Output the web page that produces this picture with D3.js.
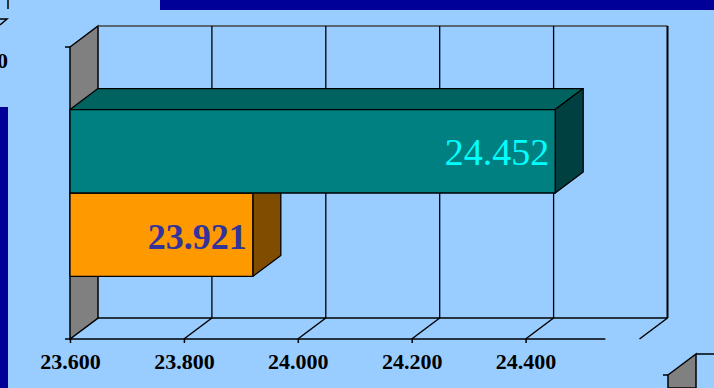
<!DOCTYPE html>
<html>
<head>
<meta charset="utf-8">
<script src="https://cdn.jsdelivr.net/npm/d3@7"></script>
<style>
  html, body { margin: 0; padding: 0; background: #99CCFF; }
  svg { display: block; }
</style>
</head>
<body>
<svg id="chart" width="714" height="388"></svg>
<script>
// Chart data
const categories = ["2006"];
const seriesNames = ["Serie 1", "Serie 2"];
const seriesValues = [23.921, 24.452];
const seriesColors = [
  { front: "#FF9900", top: "#CC7A00", side: "#7F4C00", label: "#333399", weight: "bold", size: 36 },
  { front: "#008080", top: "#006360", side: "#004040", label: "#00FFFF", weight: "normal", size: 38 }
];
const tickValues = [23.6, 23.8, 24.0, 24.2, 24.4];
const tickLabels = ["23.600", "23.800", "24.000", "24.200", "24.400"];
const valueLabels = ["23.921", "24.452"];
const axisMin = 23.6, axisMax = 24.6, axisLineEnd = 24.54;

const svg = d3.select("#chart");
const W = 714, H = 388;
const serif = "'Times New Roman', 'Liberation Serif', serif";

// Page background and decoration
svg.append("rect").attr("width", W).attr("height", H).attr("fill", "#99CCFF");
svg.append("rect").attr("x", 160).attr("y", 0).attr("width", W - 160).attr("height", 10).attr("fill", "#000099");
svg.append("rect").attr("x", 0).attr("y", 107).attr("width", 8).attr("height", H - 107).attr("fill", "#000099");

// Fragments of a neighbouring chart peeking in at the edges
const frag = svg.append("g").attr("stroke", "#000").attr("stroke-width", 1.5).attr("fill", "none");
frag.append("line").attr("x1", 8).attr("y1", 0).attr("x2", 8).attr("y2", 9);
frag.append("polyline").attr("points", "0,19 7,19 0,25");
svg.append("text").attr("x", 8).attr("y", 68).attr("text-anchor", "end")
  .attr("font-family", serif).attr("font-weight", "bold").attr("font-size", 22).text("600");
svg.append("polygon").attr("points", "668,375 696,354 696,388 668,388")
  .attr("fill", "#808080").attr("stroke", "#000").attr("stroke-width", 1.5);
frag.append("line").attr("x1", 663).attr("y1", 375).attr("x2", 668).attr("y2", 375);
frag.append("line").attr("x1", 696).attr("y1", 354).attr("x2", 714).attr("y2", 354);

// 3D plot geometry
const front = { left: 70, top: 47, bottom: 339 };
const dx = 28, dy = 21;

const x = d3.scaleLinear().domain([axisMin, axisMax]).range([front.left, 639.5]);
const yCat = d3.scaleBand().domain(categories).range([front.bottom, front.top]).paddingOuter(0.375).paddingInner(0);
const ySer = d3.scaleBand().domain(seriesNames).range([yCat(categories[0]), yCat(categories[0]) + yCat.bandwidth()]);
// first series at the bottom of the group
const yOf = name => ySer.range()[0] + ySer.range()[1] - ySer(name) - ySer.bandwidth();

const g = svg.append("g");

// Left wall (gray)
g.append("polygon")
  .attr("points", [[front.left, front.top], [front.left + dx, front.top - dy],
                   [front.left + dx, front.bottom - dy], [front.left, front.bottom]].map(p => p.join(",")).join(" "))
  .attr("fill", "#808080").attr("stroke", "#000").attr("stroke-width", 1.5);

// Back wall frame and gridlines
const gridVals = tickValues.concat([axisMax]);
const back = g.append("g").attr("stroke", "#000").attr("fill", "none");
back.append("line").attr("x1", x(axisMin) + dx).attr("x2", x(axisMax) + dx)
  .attr("y1", front.top - dy).attr("y2", front.top - dy).attr("stroke", "#444").attr("stroke-width", 1.5);
back.append("line").attr("x1", x(axisMin) + dx).attr("x2", x(axisMax) + dx)
  .attr("y1", front.bottom - dy).attr("y2", front.bottom - dy).attr("stroke-width", 1.5);
back.selectAll("line.grid").data(gridVals.slice(1)).join("line").attr("class", "grid")
  .attr("x1", d => x(d) + dx).attr("x2", d => x(d) + dx)
  .attr("y1", front.top - dy).attr("y2", front.bottom - dy)
  .attr("stroke-width", d => d === axisMax ? 2 : 1.3);
// Floor diagonals
back.selectAll("line.floor").data(gridVals.slice(1)).join("line").attr("class", "floor")
  .attr("x1", d => x(d)).attr("y1", front.bottom)
  .attr("x2", d => x(d) + dx).attr("y2", front.bottom - dy).attr("stroke-width", 1.5);

// Category axis ticks on the wall edge
g.selectAll("line.ytick").data([front.top, front.bottom]).join("line").attr("class", "ytick")
  .attr("x1", front.left - 5).attr("x2", front.left).attr("y1", d => d).attr("y2", d => d)
  .attr("stroke", "#000").attr("stroke-width", 1.5);

// Value axis
const axis = d3.axisBottom(x).tickValues(tickValues).tickSize(4).tickSizeOuter(0)
  .tickFormat((d, i) => tickLabels[i]);
const axG = g.append("g").attr("transform", `translate(0,${front.bottom})`).call(axis);
axG.select(".domain").attr("d", `M${x(axisMin)},0H${x(axisLineEnd)}`).attr("stroke-width", 1.5);
axG.selectAll(".tick line").attr("stroke-width", 1.5);
axG.selectAll(".tick text").attr("font-family", serif).attr("font-weight", "bold")
  .attr("font-size", 22).attr("fill", "#000").attr("y", 14).attr("dy", "0.71em");

// 3D bars
const bars = seriesNames.map((name, i) => ({ name, value: seriesValues[i], col: seriesColors[i], label: valueLabels[i] }));
bars.forEach(b => {
  const x0 = x(axisMin), x1 = x(b.value);
  const y0 = yOf(b.name), y1 = y0 + ySer.bandwidth();
  const bg = g.append("g").attr("stroke", "#000").attr("stroke-width", 1.3).attr("stroke-linejoin", "round");
  const pts = a => a.map(p => p.join(",")).join(" ");
  bg.append("polygon").attr("fill", b.col.top)
    .attr("points", pts([[x0, y0], [x0 + dx, y0 - dy], [x1 + dx, y0 - dy], [x1, y0]]));
  bg.append("polygon").attr("fill", b.col.side)
    .attr("points", pts([[x1, y0], [x1 + dx, y0 - dy], [x1 + dx, y1 - dy], [x1, y1]]));
  bg.append("rect").attr("fill", b.col.front)
    .attr("x", x0).attr("y", y0).attr("width", x1 - x0).attr("height", y1 - y0);
  g.append("text")
    .attr("x", x1 - 6).attr("y", (y0 + y1) / 2 + 14)
    .attr("text-anchor", "end")
    .attr("font-family", serif).attr("font-size", b.col.size).attr("font-weight", b.col.weight)
    .attr("fill", b.col.label).text(b.label);
});
</script>
</body>
</html>
